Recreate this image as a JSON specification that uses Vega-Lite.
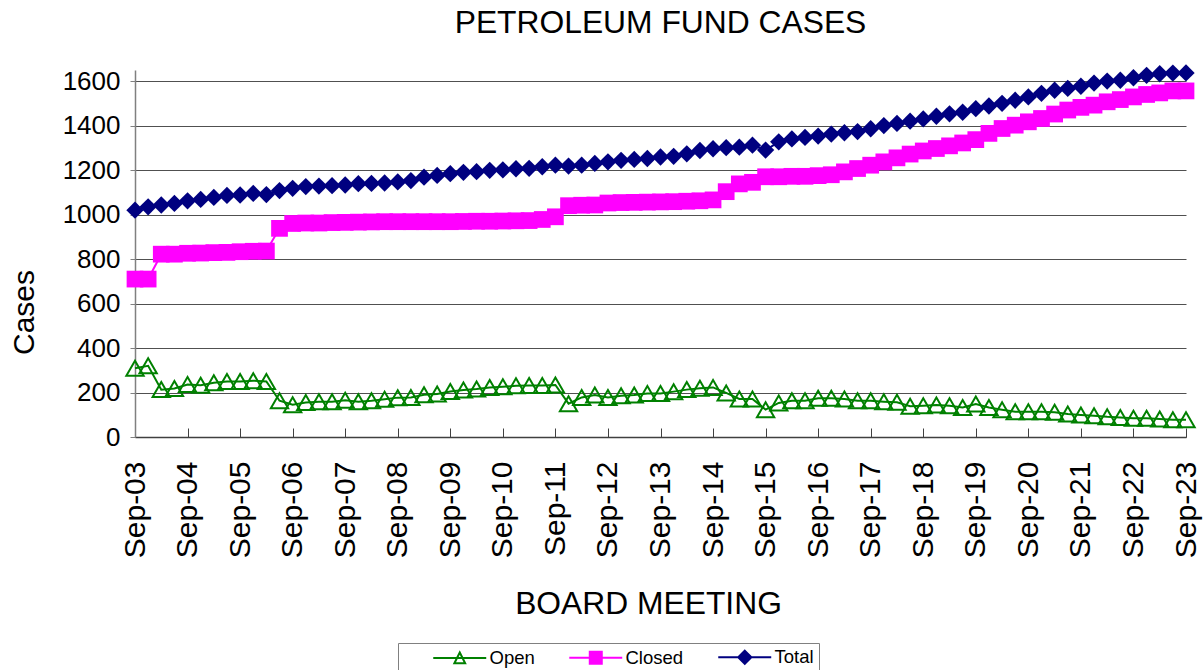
{
  "$schema": "https://vega.github.io/schema/vega-lite/v6.json",
  "width": 1051,
  "height": 367,
  "autosize": {"type": "none"},
  "padding": {"left": 135, "top": 70, "right": 18, "bottom": 233},
  "background": "white",
  "title": {"text": "PETROLEUM FUND CASES", "font": "Liberation Sans", "fontSize": 31.8, "fontWeight": "normal", "color": "black", "anchor": "middle", "offset": 24},
  "config": {"view": {"stroke": null}, "font": "Liberation Sans"},
  "data": {"values": [
    {"meeting": "Sep-03", "Open": 309, "Closed": 710, "Total": 1020},
    {"meeting": "Dec-03", "Open": 320, "Closed": 710, "Total": 1035},
    {"meeting": "Mar-04", "Open": 213, "Closed": 822, "Total": 1043},
    {"meeting": "Jun-04", "Open": 218, "Closed": 822, "Total": 1050},
    {"meeting": "Sep-04", "Open": 236, "Closed": 826, "Total": 1062},
    {"meeting": "Dec-04", "Open": 233, "Closed": 827, "Total": 1068},
    {"meeting": "Mar-05", "Open": 244, "Closed": 829, "Total": 1077},
    {"meeting": "Jun-05", "Open": 249, "Closed": 830, "Total": 1086},
    {"meeting": "Sep-05", "Open": 250, "Closed": 833, "Total": 1088},
    {"meeting": "Dec-05", "Open": 253, "Closed": 835, "Total": 1095},
    {"meeting": "Mar-06", "Open": 250, "Closed": 836, "Total": 1090},
    {"meeting": "Jun-06", "Open": 163, "Closed": 938, "Total": 1108},
    {"meeting": "Sep-06", "Open": 145, "Closed": 960, "Total": 1118},
    {"meeting": "Dec-06", "Open": 155, "Closed": 962, "Total": 1126},
    {"meeting": "Mar-07", "Open": 158, "Closed": 962, "Total": 1128},
    {"meeting": "Jun-07", "Open": 158, "Closed": 964, "Total": 1130},
    {"meeting": "Sep-07", "Open": 165, "Closed": 965, "Total": 1133},
    {"meeting": "Dec-07", "Open": 159, "Closed": 966, "Total": 1139},
    {"meeting": "Mar-08", "Open": 163, "Closed": 967, "Total": 1140},
    {"meeting": "Jun-08", "Open": 170, "Closed": 968, "Total": 1142},
    {"meeting": "Sep-08", "Open": 177, "Closed": 968, "Total": 1147},
    {"meeting": "Dec-08", "Open": 178, "Closed": 968, "Total": 1153},
    {"meeting": "Mar-09", "Open": 190, "Closed": 968, "Total": 1168},
    {"meeting": "Jun-09", "Open": 193, "Closed": 968, "Total": 1176},
    {"meeting": "Sep-09", "Open": 205, "Closed": 968, "Total": 1184},
    {"meeting": "Dec-09", "Open": 211, "Closed": 969, "Total": 1190},
    {"meeting": "Mar-10", "Open": 216, "Closed": 970, "Total": 1193},
    {"meeting": "Jun-10", "Open": 223, "Closed": 970, "Total": 1199},
    {"meeting": "Sep-10", "Open": 226, "Closed": 971, "Total": 1201},
    {"meeting": "Dec-10", "Open": 230, "Closed": 972, "Total": 1206},
    {"meeting": "Mar-11", "Open": 231, "Closed": 973, "Total": 1208},
    {"meeting": "Jun-11", "Open": 231, "Closed": 978, "Total": 1215},
    {"meeting": "Sep-11", "Open": 234, "Closed": 990, "Total": 1222},
    {"meeting": "Dec-11", "Open": 150, "Closed": 1040, "Total": 1218},
    {"meeting": "Mar-12", "Open": 178, "Closed": 1042, "Total": 1222},
    {"meeting": "Jun-12", "Open": 189, "Closed": 1043, "Total": 1230},
    {"meeting": "Sep-12", "Open": 178, "Closed": 1052, "Total": 1237},
    {"meeting": "Dec-12", "Open": 185, "Closed": 1054, "Total": 1244},
    {"meeting": "Mar-13", "Open": 189, "Closed": 1055, "Total": 1248},
    {"meeting": "Jun-13", "Open": 196, "Closed": 1056, "Total": 1252},
    {"meeting": "Sep-13", "Open": 196, "Closed": 1057, "Total": 1259},
    {"meeting": "Dec-13", "Open": 204, "Closed": 1058, "Total": 1262},
    {"meeting": "Mar-14", "Open": 213, "Closed": 1060, "Total": 1273},
    {"meeting": "Jun-14", "Open": 219, "Closed": 1062, "Total": 1288},
    {"meeting": "Sep-14", "Open": 223, "Closed": 1066, "Total": 1296},
    {"meeting": "Dec-14", "Open": 198, "Closed": 1103, "Total": 1301},
    {"meeting": "Mar-15", "Open": 171, "Closed": 1138, "Total": 1303},
    {"meeting": "Jun-15", "Open": 171, "Closed": 1145, "Total": 1312},
    {"meeting": "Sep-15", "Open": 123, "Closed": 1170, "Total": 1290},
    {"meeting": "Dec-15", "Open": 153, "Closed": 1170, "Total": 1327},
    {"meeting": "Mar-16", "Open": 163, "Closed": 1172, "Total": 1340},
    {"meeting": "Jun-16", "Open": 163, "Closed": 1172, "Total": 1347},
    {"meeting": "Sep-16", "Open": 174, "Closed": 1175, "Total": 1353},
    {"meeting": "Dec-16", "Open": 174, "Closed": 1179, "Total": 1362},
    {"meeting": "Mar-17", "Open": 171, "Closed": 1192, "Total": 1368},
    {"meeting": "Jun-17", "Open": 163, "Closed": 1207, "Total": 1373},
    {"meeting": "Sep-17", "Open": 163, "Closed": 1222, "Total": 1386},
    {"meeting": "Dec-17", "Open": 159, "Closed": 1237, "Total": 1400},
    {"meeting": "Mar-18", "Open": 156, "Closed": 1255, "Total": 1410},
    {"meeting": "Jun-18", "Open": 138, "Closed": 1272, "Total": 1420},
    {"meeting": "Sep-18", "Open": 141, "Closed": 1286, "Total": 1430},
    {"meeting": "Dec-18", "Open": 144, "Closed": 1297, "Total": 1442},
    {"meeting": "Mar-19", "Open": 140, "Closed": 1309, "Total": 1453},
    {"meeting": "Jun-19", "Open": 133, "Closed": 1322, "Total": 1460},
    {"meeting": "Sep-19", "Open": 148, "Closed": 1337, "Total": 1476},
    {"meeting": "Dec-19", "Open": 133, "Closed": 1365, "Total": 1488},
    {"meeting": "Mar-20", "Open": 123, "Closed": 1387, "Total": 1500},
    {"meeting": "Jun-20", "Open": 114, "Closed": 1402, "Total": 1514},
    {"meeting": "Sep-20", "Open": 114, "Closed": 1417, "Total": 1529},
    {"meeting": "Dec-20", "Open": 114, "Closed": 1432, "Total": 1545},
    {"meeting": "Mar-21", "Open": 111, "Closed": 1452, "Total": 1559},
    {"meeting": "Jun-21", "Open": 103, "Closed": 1470, "Total": 1567},
    {"meeting": "Sep-21", "Open": 99, "Closed": 1482, "Total": 1577},
    {"meeting": "Dec-21", "Open": 96, "Closed": 1492, "Total": 1591},
    {"meeting": "Mar-22", "Open": 91, "Closed": 1507, "Total": 1600},
    {"meeting": "Jun-22", "Open": 88, "Closed": 1517, "Total": 1604},
    {"meeting": "Sep-22", "Open": 84, "Closed": 1529, "Total": 1615},
    {"meeting": "Dec-22", "Open": 84, "Closed": 1540, "Total": 1626},
    {"meeting": "Mar-23", "Open": 81, "Closed": 1547, "Total": 1633},
    {"meeting": "Jun-23", "Open": 78, "Closed": 1556, "Total": 1636},
    {"meeting": "Sep-23", "Open": 78, "Closed": 1556, "Total": 1637}
  ]},
  "transform": [{"fold": ["Open", "Closed", "Total"], "as": ["series", "cases"]}],
  "encoding": {
    "x": {
      "field": "meeting", "type": "ordinal", "sort": null,
      "scale": {"type": "point", "padding": 0},
      "axis": {
        "values": ["Sep-03","Sep-04","Sep-05","Sep-06","Sep-07","Sep-08","Sep-09","Sep-10","Sep-11","Sep-12","Sep-13","Sep-14","Sep-15","Sep-16","Sep-17","Sep-18","Sep-19","Sep-20","Sep-21","Sep-22","Sep-23"],
        "labelAngle": -90, "labelFontSize": 30, "labelFont": "Liberation Sans", "labelColor": "black",
        "labelOverlap": false, "labelPadding": 33,
        "tickSize": -9, "tickColor": "#404040", "tickWidth": 1,
        "domainColor": "#404040", "domainWidth": 1.5, "grid": false,
        "title": "BOARD MEETING", "titleFont": "Liberation Sans", "titleFontSize": 31.8, "titleFontWeight": "normal", "titleColor": "black",
        "titleX": 513, "titleY": 166, "titleAlign": "center", "titleBaseline": "middle", "titleAngle": 0
      }
    },
    "y": {
      "field": "cases", "type": "quantitative",
      "scale": {"domain": [0, 1650], "nice": false},
      "axis": {
        "values": [0, 200, 400, 600, 800, 1000, 1200, 1400, 1600], "format": "d",
        "grid": true, "gridColor": "#505050", "gridWidth": 1,
        "labelFontSize": 26, "labelFont": "Liberation Sans", "labelColor": "black", "labelPadding": 10,
        "tickSize": 5, "tickColor": "#808080", "domainColor": "#808080", "domainWidth": 1.5,
        "title": "Cases", "titleFont": "Liberation Sans", "titleFontSize": 30, "titleFontWeight": "normal", "titleColor": "black",
        "titleX": -111, "titleY": 242, "titleAngle": -90, "titleAlign": "center", "titleBaseline": "middle"
      }
    }
  },
  "layer": [
    {
      "mark": {"type": "line", "strokeWidth": 2},
      "encoding": {
        "color": {
          "field": "series", "type": "nominal",
          "scale": {"domain": ["Open", "Closed", "Total"], "range": ["#008000", "#FF00FF", "#000080"]},
          "legend": {
            "title": null, "orient": "none", "legendX": 263, "legendY": 573, "direction": "horizontal",
            "strokeColor": "#808080", "padding": 5,
            "labelFontSize": 18.5, "labelFont": "Liberation Sans", "labelColor": "black",
            "symbolSize": 144, "symbolStrokeWidth": 2, "symbolOffset": 27, "labelOffset": 41, "columnPadding": 4,
            "encode": {
              "symbols": {
                "update": {
                  "shape": {"signal": "datum.value === 'Open' ? 'M-1,0L7.83,0M3.42,-0.9L4.32,0.9L2.52,0.9Z' : datum.value === 'Closed' ? 'M-1,0L7.83,0M2.42,-1L4.42,-1L4.42,1L2.42,1Z' : 'M-1,0L7.83,0M3.42,-1.1L4.52,0L3.42,1.1L2.32,0Z'"},
                  "fill": {"signal": "datum.value === 'Open' ? 'transparent' : datum.value === 'Closed' ? '#FF00FF' : '#000080'"},
                  "stroke": {"signal": "datum.value === 'Open' ? '#008000' : datum.value === 'Closed' ? '#FF00FF' : '#000080'"},
                  "strokeWidth": {"value": 2},
                  "opacity": {"value": 1}
                }
              }
            }
          }
        }
      }
    },
    {
      "transform": [{"filter": "datum.series === 'Open'"}],
      "mark": {"type": "point", "shape": "triangle-up", "filled": false, "stroke": "#008000", "strokeWidth": 2, "opacity": 1, "size": 300}
    },
    {
      "transform": [{"filter": "datum.series === 'Closed'"}],
      "mark": {"type": "point", "shape": "square", "filled": true, "fill": "#FF00FF", "opacity": 1, "size": 280}
    },
    {
      "transform": [{"filter": "datum.series === 'Total'"}],
      "mark": {"type": "point", "shape": "diamond", "filled": true, "fill": "#000080", "opacity": 1, "size": 300}
    }
  ]
}
